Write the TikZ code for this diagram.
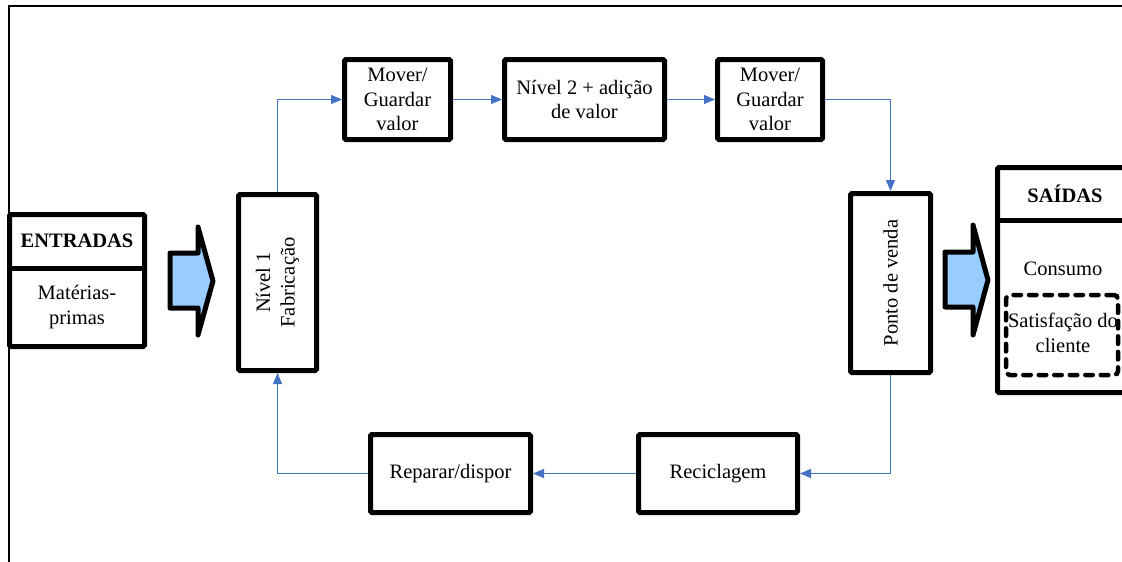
\documentclass[tikz,border=0pt]{standalone}
\usepackage{fontspec}
\setmainfont{Liberation Serif}
\usetikzlibrary{arrows.meta}
\definecolor{flow}{HTML}{4472C4}
\definecolor{blockfill}{HTML}{99CCFF}
\newcommand\diagfont{\fontsize{20.5}{24.5}\selectfont}

\begin{document}
\begin{tikzpicture}[x=1pt,y=-1pt,
  box/.style={draw, line width=5pt, rounded corners=1.5pt, align=center,
    inner sep=0pt, font=\diagfont},
  txt/.style={align=center, inner sep=0pt, font=\diagfont},
  hdr/.style={align=center, inner sep=0pt, font=\diagfont\bfseries},
  flowline/.style={draw=flow, line width=1.1pt,
    -{Triangle[length=11pt,width=9pt]}},
  blockarrow/.style={draw, fill=blockfill, line width=5pt, line join=round},
  dashbox/.style={draw, line width=4.5pt, rounded corners=4pt,
    dash pattern=on 7.5pt off 8pt, line cap=round}]

\useasboundingbox (0,0) rectangle (1122,562);
\clip (0,0) rectangle (1122,562);

% outer frame (top and left edges)
\draw[line width=1.5pt] (9,570) -- (9,6) -- (1130,6);

% inputs
\node[box, minimum width=135pt, minimum height=132pt] (ent) at (77,280.5) {};
\draw[line width=5pt] (ent.west |- 0,268) -- (ent.east |- 0,268);
\node[hdr] (enthdr) at (77,241) {ENTRADAS};
\node[txt] (entbody) at (77,307) {Matérias-\\primas};

% outputs
\node[box, minimum width=135.5pt, minimum height=225pt] (sai) at (1065.25,280) {};
\draw[line width=5pt] (sai.west |- 0,220) -- (sai.east |- 0,220);
\node[hdr] (saihdr) at (1065,194) {SAÍDAS};
\node[txt] (consumo) at (1063,269) {Consumo};
\node[dashbox, minimum width=112pt, minimum height=80pt] (satis) at (1062,335) {};
\node[txt] (satistxt) at (1063,333) {Satisfação do\\cliente};

% block arrows into and out of the chain
\path[blockarrow] (170,253) -- (198,253) -- (198,227) -- (213,281)
  -- (198,335) -- (198,308) -- (170,308) -- cycle;
\path[blockarrow] (945,252) -- (973,252) -- (973,225) -- (988,280)
  -- (973,335) -- (973,307) -- (945,307) -- cycle;

% process steps
\node[box, minimum width=78pt, minimum height=176pt] (fab) at (277.5,282.5) {};
\node[txt, rotate=90] (fabtxt) at (fab.center) {Nível 1\\Fabricação};
\node[box, minimum width=106pt, minimum height=80pt] (mov1) at (397.5,99.5)
  {Mover/\\Guardar\\valor};
\node[box, minimum width=160pt, minimum height=80pt] (niv2) at (584.5,99.5)
  {Nível 2 + adição\\de valor};
\node[box, minimum width=105pt, minimum height=80pt] (mov2) at (770,99.5)
  {Mover/\\Guardar\\valor};
\node[box, minimum width=80pt, minimum height=179pt] (pv) at (890.5,283) {};
\node[txt, rotate=90] (pvtxt) at (pv.center) {Ponto de venda};
\node[box, minimum width=159pt, minimum height=78pt] (rec) at (718,473.5)
  {Reciclagem};
\node[box, minimum width=160pt, minimum height=78pt] (rep) at (450.5,473.5)
  {Reparar/dispor};

% flow connectors
\draw[flowline] (fab.north) |- (mov1.west);
\draw[flowline] (mov1.east) -- (niv2.west);
\draw[flowline] (niv2.east) -- (mov2.west);
\draw[flowline] (mov2.east) -| (pv.north);
\draw[flowline] (pv.south) |- (rec.east);
\draw[flowline] (rec.west) -- (rep.east);
\draw[flowline] (rep.west) -| (fab.south);
\end{tikzpicture}
\end{document}
